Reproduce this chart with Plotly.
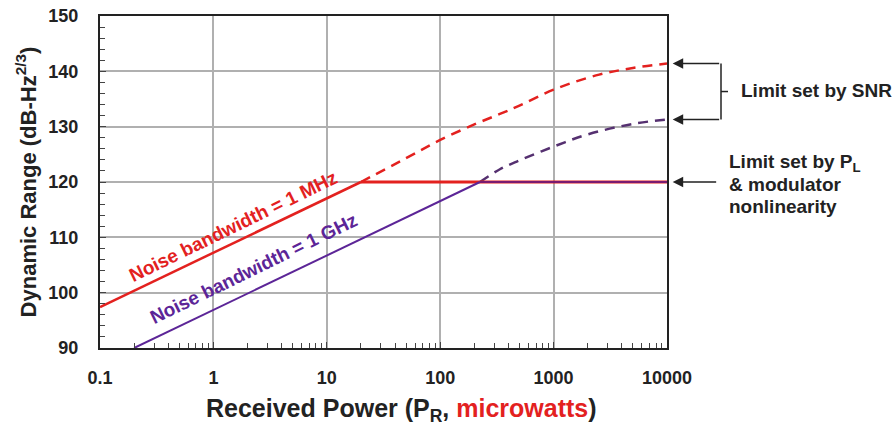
import plotly.graph_objects as go
import numpy as np

# Data
red_solid_x = [0.1, 20]
red_solid_y = [97.4, 120]
red_flat_x = [20, 10000]
red_flat_y = [120, 120]
red_dash_x = [20, 50, 100, 200, 336, 500, 1000, 2520, 5000, 10000]
red_dash_y = [120, 124.3, 127.6, 130.4, 132.3, 133.8, 136.7, 139.4, 140.6, 141.4]

pur_solid_x = [0.2, 224]
pur_solid_y = [90, 120]
pur_flat_x = [224, 10000]
pur_flat_y = [120, 120]
pur_dash_x = [224, 336, 500, 1000, 2000, 5000, 10000]
pur_dash_y = [120, 122.3, 123.9, 126.4, 128.6, 130.5, 131.3]

x_tickvals = [0.1, 1, 10, 100, 1000, 10000]
x_ticktext = ["0.1", "1", "10", "100", "1000", "10000"]
y_tickvals = [90, 100, 110, 120, 130, 140, 150]

snr_red_level = 141.4
snr_pur_level = 131.3
pl_level = 120

RED = "#e3211f"
PURPLE = "#5c2597"
PURPLE_DASH = "#553070"

fig = go.Figure()
fig.add_trace(go.Scatter(x=red_dash_x, y=red_dash_y, mode="lines",
                         line=dict(color=RED, width=2.5, dash="10px,7px"), line_shape="spline"))
fig.add_trace(go.Scatter(x=pur_dash_x, y=pur_dash_y, mode="lines",
                         line=dict(color=PURPLE_DASH, width=2.5, dash="10px,7px"), line_shape="spline"))
fig.add_trace(go.Scatter(x=red_solid_x, y=red_solid_y, mode="lines", line=dict(color=RED, width=2.5)))
fig.add_trace(go.Scatter(x=red_flat_x, y=red_flat_y, mode="lines", line=dict(color=RED, width=3)))
fig.add_trace(go.Scatter(x=pur_solid_x, y=pur_solid_y, mode="lines", line=dict(color=PURPLE, width=2)))
fig.add_trace(go.Scatter(x=pur_flat_x, y=pur_flat_y, mode="lines",
                         line=dict(color="#7a1a70", width=2.2)))

FONT = "Liberation Sans, Arial, sans-serif"
TXT = "#222"

ann = []
ann.append(dict(x=np.log10(1.52), y=111.2, xref="x", yref="y", text="Noise bandwidth = 1 MHz",
                showarrow=False, textangle=-26, yshift=4, xshift=-1,
                font=dict(family=FONT, size=19, color=RED, weight="bold")))
ann.append(dict(x=np.log10(2.33), y=103.6, xref="x", yref="y", text="Noise bandwidth = 1 GHz",
                showarrow=False, textangle=-26, yshift=4, xshift=-1,
                font=dict(family=FONT, size=19, color=PURPLE, weight="bold")))

# arrows
for lvl, tail in [(snr_red_level, 48), (snr_pur_level, 48), (pl_level, 45)]:
    ann.append(dict(x=1.010, y=lvl, xref="paper", yref="y", text="", showarrow=True,
                    ax=tail, ay=0, axref="pixel", ayref="pixel",
                    arrowhead=2, arrowsize=1.4, arrowwidth=1.5, arrowcolor=TXT))

ann.append(dict(x=1.0, y=136.6, xref="paper", yref="y", xshift=72, text="Limit set by SNR",
                showarrow=False, xanchor="left", font=dict(family=FONT, size=19, color=TXT, weight="bold")))
pl_lines = ["Limit set by P<sub>L</sub>", "&amp; modulator", "nonlinearity"]
pl_pix = [163, 185, 207]
for t, py in zip(pl_lines, pl_pix):
    ann.append(dict(x=1.0, y=90 + (348 - py) / 5.533, xref="paper", yref="y", xshift=60, text=t,
                    showarrow=False, xanchor="left", yanchor="middle",
                    font=dict(family=FONT, size=19, color=TXT, weight="bold")))

# x-axis title (slightly right of centre, as in the reference)
ann.append(dict(x=0.5, y=(348 - 410) / 332, xref="paper", yref="paper", xshift=18,
                xanchor="center", yanchor="middle", showarrow=False,
                text="Received Power (P<sub>R</sub>, <span style='color:#e3211f'>microwatts</span>)",
                font=dict(family=FONT, size=25, color=TXT, weight="bold")))

shapes = []
xb = 1.0 + 54 / 567
shapes.append(dict(type="line", xref="paper", yref="y", x0=xb, x1=xb, y0=snr_pur_level, y1=snr_red_level,
                   line=dict(color=TXT, width=1.5)))
shapes.append(dict(type="line", xref="paper", yref="y", x0=xb, x1=xb + 7 / 567,
                   y0=(snr_pur_level + snr_red_level) / 2, y1=(snr_pur_level + snr_red_level) / 2,
                   line=dict(color=TXT, width=1.5)))

fig.update_layout(
    width=896, height=429,
    margin=dict(l=100, r=229, t=16, b=81, autoexpand=False),
    plot_bgcolor="white", paper_bgcolor="white",
    showlegend=False,
    annotations=ann, shapes=shapes,
    font=dict(family=FONT, color=TXT),
)
fig.update_xaxes(
    type="log", range=[-1, 4], automargin=False,
    tickvals=x_tickvals, ticktext=x_ticktext,
    tickfont=dict(family=FONT, size=18, color=TXT, weight="bold"),
    showgrid=True, gridcolor="#b0b0b0", gridwidth=1.5,
    showline=True, linecolor=TXT, linewidth=2, mirror=True,
    ticks="inside", ticklen=6, tickcolor="#444",
    minor=dict(ticks="inside", ticklen=5, tickcolor="#444", tickwidth=1.2, dtick="D1", showgrid=False),
    ticklabelstandoff=12,
    zeroline=False,
)
fig.update_yaxes(
    range=[90, 150], tickvals=y_tickvals, automargin=False,
    tickfont=dict(family=FONT, size=18, color=TXT, weight="bold"),
    showgrid=True, gridcolor="#b0b0b0", gridwidth=1.5,
    showline=True, linecolor=TXT, linewidth=2, mirror=True,
    ticks="inside", ticklen=6, tickcolor="#444",
    minor=dict(ticks="inside", ticklen=5, tickcolor="#444", tickwidth=1.2, dtick=2, showgrid=False),
    ticklabelstandoff=16,
    title=dict(text="Dynamic Range (dB-Hz<sup>2/3</sup>)",
               font=dict(family=FONT, size=22, color=TXT, weight="bold"), standoff=6),
    zeroline=False,
)

fig.write_html("out.html", config={"displayModeBar": False},
               post_script="document.body.style.margin='0';document.body.style.overflow='hidden';")
